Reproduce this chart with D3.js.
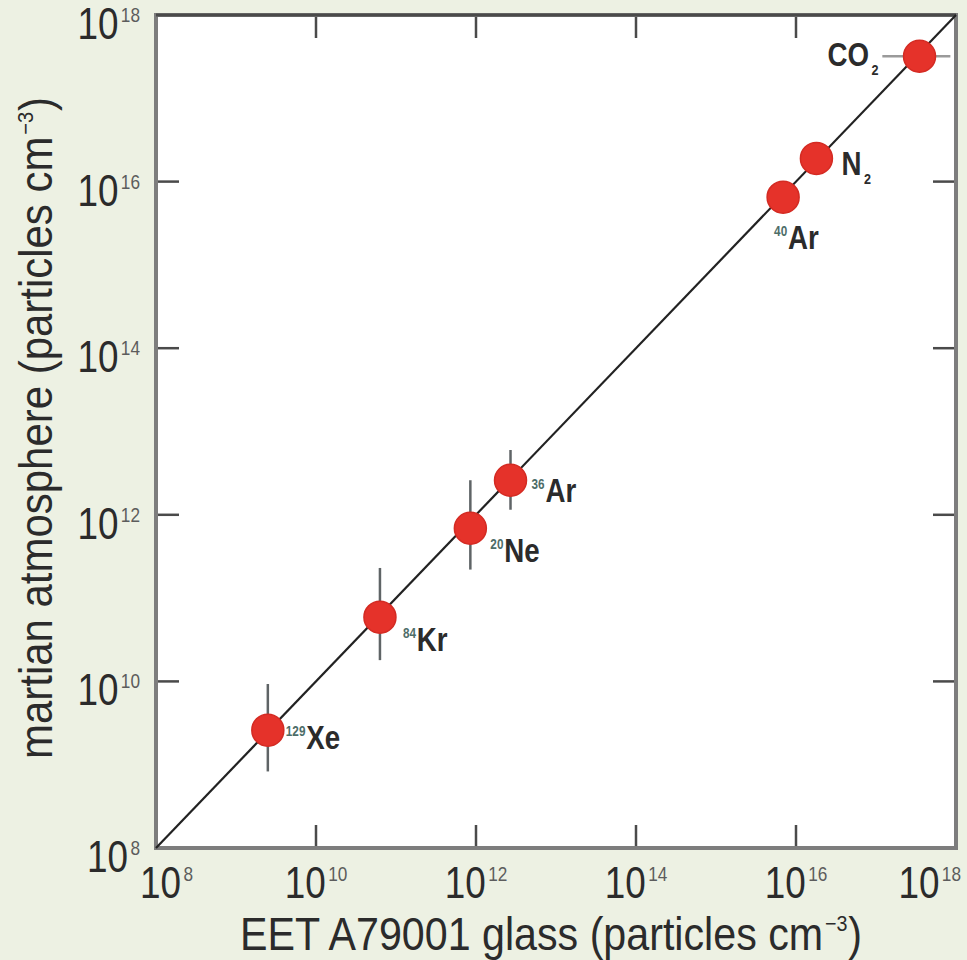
<!DOCTYPE html>
<html>
<head>
<meta charset="utf-8">
<script src="https://cdn.jsdelivr.net/npm/d3@7"></script>
<style>
  html, body { margin: 0; padding: 0; background: #edf1e3; }
  svg { display: block; }
</style>
</head>
<body>
<svg id="chart" width="967" height="960"></svg>
<script>
// species: mass number (superscript), symbol, subscript
var massNumbers = ["129", "84", "20", "36", "40", "", ""];
var symbols     = ["Xe", "Kr", "Ne", "Ar", "Ar", "N", "CO"];
var subscripts  = ["", "", "", "", "", "2", "2"];

// EET A79001 glass (particles cm^-3)
var glass     = [2.5e9, 6.3e10, 8.5e11, 2.7e12, 6.9e15, 1.8e16, 3.5e17];
var glassLow  = [null, null, null, null, null, null, 1.2e17];
var glassHigh = [null, null, null, null, null, null, 8.5e17];

// martian atmosphere (particles cm^-3)
var atmos     = [2.6e9, 5.9e10, 6.9e11, 2.6e12, 6.5e15, 1.9e16, 3.2e17];
var atmosLow  = [8.3e8, 1.8e10, 2.2e11, 1.15e12, null, null, null];
var atmosHigh = [9.3e9, 2.3e11, 2.6e12, 6.0e12, null, null, null];

var tickExponents = [8, 10, 12, 14, 16, 18];

var svg = d3.select("#chart");
var W = 967, H = 960;
var margin = {top: 15, right: 11, bottom: 112, left: 156};

var x = d3.scaleLog().domain([1e8, 1e18]).range([margin.left, W - margin.right]);
var y = d3.scaleLog().domain([1e8, 1e18]).range([H - margin.bottom, margin.top]);

var textColor = "#2b2b2b";
var font = "'Liberation Sans', Arial, sans-serif";

// text squeezed horizontally to mimic the condensed face of the original
function squeezed(px, py, sx, anchor) {
  var g = svg.append("g").attr("transform", "translate(" + px + "," + py + ") scale(" + sx + ",1)");
  return g.append("text").attr("text-anchor", anchor)
    .attr("font-family", font).attr("fill", textColor);
}

// plot background
svg.append("rect")
  .attr("x", x.range()[0]).attr("y", y.range()[1])
  .attr("width", x.range()[1] - x.range()[0])
  .attr("height", y.range()[0] - y.range()[1])
  .attr("fill", "#ffffff");

// inward ticks on all sides
var tickVals = tickExponents.map(function(e) { return Math.pow(10, e); });
var inner = tickVals.slice(1, -1);
var tickLen = 23;
var g = svg.append("g").attr("stroke", "#4a4a4a").attr("stroke-width", 2.5);
inner.forEach(function(v) {
  g.append("line").attr("x1", x(v)).attr("x2", x(v)).attr("y1", y.range()[0]).attr("y2", y.range()[0] - tickLen);
  g.append("line").attr("x1", x(v)).attr("x2", x(v)).attr("y1", y.range()[1]).attr("y2", y.range()[1] + tickLen);
  g.append("line").attr("y1", y(v)).attr("y2", y(v)).attr("x1", x.range()[0]).attr("x2", x.range()[0] + tickLen);
  g.append("line").attr("y1", y(v)).attr("y2", y(v)).attr("x1", x.range()[1]).attr("x2", x.range()[1] - tickLen);
});

// frame
svg.append("rect")
  .attr("x", x.range()[0]).attr("y", y.range()[1])
  .attr("width", x.range()[1] - x.range()[0])
  .attr("height", y.range()[0] - y.range()[1])
  .attr("fill", "none").attr("stroke", "#7d7d7d").attr("stroke-width", 4);
svg.append("line")
  .attr("x1", x.range()[0]).attr("x2", x.range()[1])
  .attr("y1", y.range()[1]).attr("y2", y.range()[1])
  .attr("stroke", "#4a4a4a").attr("stroke-width", 3);

// 1:1 line
svg.append("line")
  .attr("x1", x(1e8)).attr("y1", y(1e8))
  .attr("x2", x(1e18)).attr("y2", y(1e18))
  .attr("stroke", "#222").attr("stroke-width", 2.2);

// tick labels: 10 with superscript exponent
function powLabel(sel, e) {
  sel.attr("font-size", 45);
  sel.append("tspan").text("10");
  sel.append("tspan").text(e).attr("font-size", 21).attr("dy", -17).attr("dx", 3).attr("fill", "#5c5c5c");
}
tickExponents.forEach(function(e) {
  var v = Math.pow(10, e);
  powLabel(squeezed(140, y(v) + 24, 0.82, "end"), e);
});
tickExponents.forEach(function(e, i) {
  var v = Math.pow(10, e);
  var anchor = "middle", px = x(v);
  if (i === 0) { anchor = "start"; px = x(v) - 16; }
  if (i === tickExponents.length - 1) { anchor = "end"; px = W - 6; }
  powLabel(squeezed(px, y.range()[0] + 50, 0.82, anchor), e);
});

// axis titles
function unitTitle(sel, main, len) {
  sel.attr("font-size", 46).attr("textLength", len).attr("lengthAdjust", "spacingAndGlyphs");
  sel.append("tspan").text(main + " (particles cm");
  sel.append("tspan").text("\u2212").attr("font-size", 22).attr("dy", -19).attr("dx", 2);
  sel.append("tspan").text("3").attr("font-size", 22);
  sel.append("tspan").text(")").attr("dy", 19).attr("dx", 1);
}
unitTitle(squeezed(551, 950, 1, "middle"), "EET A79001 glass", 622);

var yt = svg.append("text")
  .attr("transform", "translate(52,428) rotate(-90)")
  .attr("text-anchor", "middle")
  .attr("font-family", font).attr("fill", textColor);
unitTitle(yt, "martian atmosphere", 662);

// error bars
var eb = svg.append("g").attr("stroke", "#5f6466").attr("stroke-width", 2.5);
glass.forEach(function(gv, i) {
  if (atmosLow[i] !== null) {
    eb.append("line").attr("x1", x(gv)).attr("x2", x(gv))
      .attr("y1", y(atmosLow[i])).attr("y2", y(atmosHigh[i]));
  }
  if (glassLow[i] !== null) {
    eb.append("line").attr("y1", y(atmos[i])).attr("y2", y(atmos[i]))
      .attr("x1", x(glassLow[i])).attr("x2", x(glassHigh[i]))
      .attr("stroke", "#9a9a9a");
  }
});

// points
svg.append("g").selectAll("circle")
  .data(glass)
  .enter().append("circle")
  .attr("cx", function(d) { return x(d); })
  .attr("cy", function(d, i) { return y(atmos[i]); })
  .attr("r", 16)
  .attr("fill", "#e5322a")
  .attr("stroke", "#d42b23").attr("stroke-width", 1.5);

// label offsets from the point centre (layout only)
var labelDx = [18, 23, 20, 21, -9, 25, -41];
var labelDy = [19, 34, 34, 22, 52, 17, 10];
var labelAnchor = ["start", "start", "start", "start", "start", "start", "end"];

glass.forEach(function(gv, i) {
  var t = squeezed(x(gv) + labelDx[i], y(atmos[i]) + labelDy[i], 0.84, labelAnchor[i])
    .attr("font-weight", "bold").attr("font-size", 33);
  if (massNumbers[i]) {
    t.append("tspan").text(massNumbers[i]).attr("font-size", 14).attr("dy", -13).attr("fill", "#4d6d68");
    t.append("tspan").text(symbols[i]).attr("dy", 13).attr("dx", 1);
  } else {
    t.append("tspan").text(symbols[i]);
  }
  if (subscripts[i]) {
    t.append("tspan").text(subscripts[i]).attr("font-size", 15).attr("dy", 9).attr("dx", 3);
  }
});
</script>
</body>
</html>
